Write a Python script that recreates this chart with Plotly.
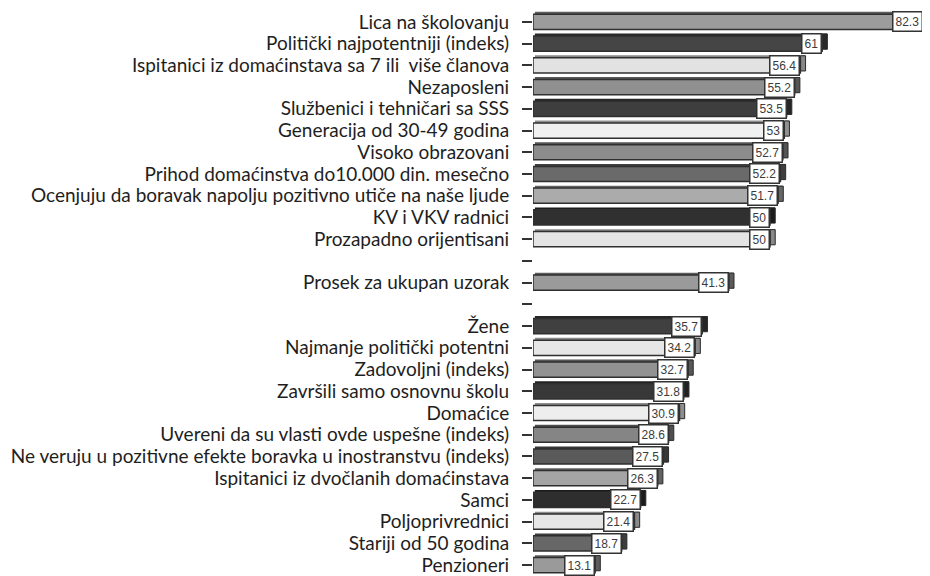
import plotly.graph_objects as go

# --- data ---
top_labels = [
    "Lica na školovanju",
    "Politički najpotentniji (indeks)",
    "Ispitanici iz domaćinstava sa 7 ili  više članova",
    "Nezaposleni",
    "Službenici i tehničari sa SSS",
    "Generacija od 30-49 godina",
    "Visoko obrazovani",
    "Prihod domaćinstva do10.000 din. mesečno",
    "Ocenjuju da boravak napolju pozitivno utiče na naše ljude",
    "KV i VKV radnici",
    "Prozapadno orijentisani",
]
top_values = [82.3, 61, 56.4, 55.2, 53.5, 53, 52.7, 52.2, 51.7, 50, 50]

avg_label = "Prosek za ukupan uzorak"
avg_value = 41.3

bottom_labels = [
    "Žene",
    "Najmanje politički potentni",
    "Zadovoljni (indeks)",
    "Završili samo osnovnu školu",
    "Domaćice",
    "Uvereni da su vlasti ovde uspešne (indeks)",
    "Ne veruju u pozitivne efekte boravka u inostranstvu (indeks)",
    "Ispitanici iz dvočlanih domaćinstava",
    "Samci",
    "Poljoprivrednici",
    "Stariji od 50 godina",
    "Penzioneri",
]
bottom_values = [35.7, 34.2, 32.7, 31.8, 30.9, 28.6, 27.5, 26.3, 22.7, 21.4, 18.7, 13.1]

top_colors = ["#9c9c9c", "#454545", "#e2e2e2", "#909090", "#3e3e3e", "#f0f0f0",
              "#8c8c8c", "#6a6a6a", "#ababab", "#303030", "#e4e4e4"]
avg_color = "#9a9a9a"
bottom_colors = ["#404040", "#e6e6e6", "#929292", "#383838", "#eeeeee", "#858585",
                 "#5a5a5a", "#a4a4a4", "#2e2e2e", "#e6e6e6", "#676767", "#9a9a9a"]

# --- build slot layout (blank slot before and after the average) ---
labels, values, colors = [], [], []
labels += top_labels; values += top_values; colors += top_colors
labels += [""]; values += [None]; colors += [None]
labels += [avg_label]; values += [avg_value]; colors += [avg_color]
labels += [""]; values += [None]; colors += [None]
labels += bottom_labels; values += bottom_values; colors += bottom_colors

pos = list(range(len(labels)))
bar_pos = [p for p, v in zip(pos, values) if v is not None]
bar_val = [v for v in values if v is not None]
bar_col = [c for c in colors if c is not None]


def darker(hexc, f=0.55):
    r, g, b = int(hexc[1:3], 16), int(hexc[3:5], 16), int(hexc[5:7], 16)
    return "#%02x%02x%02x" % (int(r * f), int(g * f), int(b * f))


W = 0.70
depth = 1.1

fig = go.Figure()

# top face (thin dark strip)
fig.add_trace(go.Bar(
    y=bar_pos, x=[v + depth * 0.6 for v in bar_val], base=[0.4] * len(bar_val),
    orientation="h", width=0.13, offset=-W / 2 - 0.11,
    marker=dict(color=[darker(c, 0.6) for c in bar_col], line=dict(width=0)),
    hoverinfo="skip", showlegend=False,
))
# side face
fig.add_trace(go.Bar(
    y=bar_pos, x=[depth] * len(bar_val), base=bar_val,
    orientation="h", width=W, offset=-W / 2 - 0.09,
    marker=dict(color=[darker(c, 0.6) for c in bar_col],
                line=dict(color="#2a2a2a", width=1)),
    hoverinfo="skip", showlegend=False,
))
# front face
fig.add_trace(go.Bar(
    y=bar_pos, x=bar_val, orientation="h", width=W,
    marker=dict(color=bar_col, line=dict(color="#2f2f2f", width=1.5)),
    showlegend=False,
))

for p, v in zip(bar_pos, bar_val):
    fig.add_annotation(
        x=v, y=p, xref="x", yref="y", text="%g" % v,
        xanchor="right", yanchor="middle", showarrow=False,
        font=dict(family="Liberation Sans, Arial", size=12, color="#3c3c3c"),
        bgcolor="white", bordercolor="#333333", borderwidth=1.5, borderpad=2,
    )

fig.update_layout(
    width=922, height=568,
    margin=dict(l=525, r=0, t=3, b=0, autoexpand=False),
    paper_bgcolor="white", plot_bgcolor="white",
    barmode="overlay",
    xaxis=dict(range=[0, 83.75], visible=False, automargin=False),
    yaxis=dict(
        range=[len(labels) - 0.5, -0.5], automargin=False,
        tickmode="array", tickvals=pos, ticktext=labels,
        ticks="outside", ticklen=10, tickwidth=1.5, tickcolor="#333333",
        ticklabelstandoff=9,
        showline=False, showgrid=False, zeroline=False,
        tickfont=dict(family="Lato, Carlito, sans-serif", size=19, color="#1e1e1e"),
    ),
)

fig.write_html("out.html")
